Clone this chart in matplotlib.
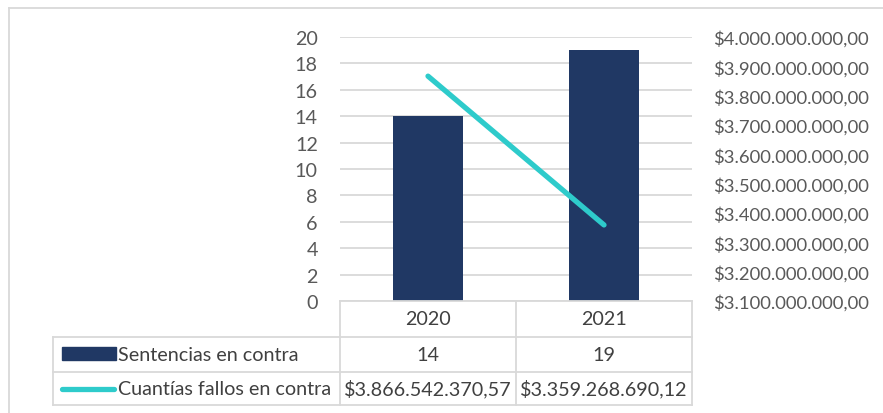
import matplotlib
matplotlib.use("Agg")
import matplotlib.pyplot as plt
from matplotlib.lines import Line2D
from matplotlib.patches import Rectangle
from matplotlib.ticker import FuncFormatter, MultipleLocator
import matplotlib.transforms as mtransforms

categories = ["2020", "2021"]
sentencias = [14, 19]
cuantias = [3866542370.57, 3359268690.12]
series_names = ["Sentencias en contra", "Cuantías fallos en contra"]

W, H = 883, 414
FONT = "Lato"
TXT = "#595959"
GRID = "#D9D9D9"
BAR = "#203864"
LINE = "#2ECBCB"
TBL_FS = 14.2

plt.rcParams["font.family"] = [FONT, "DejaVu Sans"]

fig = plt.figure(figsize=(W / 100, H / 100), dpi=100)

def fx(px):
    return px / W

def fy(py):
    return 1 - py / H

ax_left, ax_right, ax_top, ax_bottom = 340, 692, 38, 302
ax = fig.add_axes([fx(ax_left), fy(ax_bottom), fx(ax_right - ax_left), (ax_bottom - ax_top) / H])
x = list(range(len(categories)))
ax.bar(x, sentencias, width=0.4, color=BAR, zorder=2)
ax.set_xlim(-0.5, len(categories) - 0.5)
ax.set_ylim(0, 20)
ax.yaxis.set_major_locator(MultipleLocator(2))
ax.grid(axis="y", color=GRID, linewidth=1.3, zorder=0)
ax.set_axisbelow(True)
ax.set_xticks([])
ax.tick_params(axis="y", length=0, pad=16, labelsize=14.2, labelcolor=TXT)
for s in ["top", "left", "right"]:
    ax.spines[s].set_visible(False)
ax.spines["bottom"].set_color(GRID)
ax.spines["bottom"].set_linewidth(1.3)

ax2 = ax.twinx()
ax2.plot(x, cuantias, color=LINE, linewidth=3.8, solid_capstyle="round", zorder=3)
ax2.set_ylim(3.1e9, 4.0e9)
ax2.yaxis.set_major_locator(MultipleLocator(1e8))

def money(v, pos=None):
    s = f"{v:,.2f}"
    s = s.replace(",", "X").replace(".", ",").replace("X", ".")
    return "$" + s

ax2.yaxis.set_major_formatter(FuncFormatter(money))
ax2.tick_params(axis="y", length=0, pad=15, labelsize=13.3, labelcolor=TXT)
for s in ["top", "left", "right", "bottom"]:
    ax2.spines[s].set_visible(False)

# chart border
fig.add_artist(Line2D([fx(8.5), fx(W)], [fy(8.5), fy(8.5)], color=GRID, lw=1.3))
fig.add_artist(Line2D([fx(8.5), fx(8.5)], [fy(8.5), fy(H)], color=GRID, lw=1.3))

# data table
blend = mtransforms.blended_transform_factory(ax.transData, fig.transFigure)
rows_y = [302, 338, 373, 406]
tbl_left = 53
n = len(categories)
edges = [i - 0.5 for i in range(n + 1)]
for e in edges:
    fig.add_artist(Line2D([e, e], [fy(rows_y[0]), fy(rows_y[-1])], color=GRID, lw=1.3, transform=blend))
for ry in rows_y[1:]:
    fig.add_artist(Line2D([fx(tbl_left), fx(ax_right)], [fy(ry), fy(ry)], color=GRID, lw=1.3))
fig.add_artist(Line2D([fx(tbl_left), fx(tbl_left)], [fy(rows_y[1]), fy(rows_y[-1])], color=GRID, lw=1.3))

# header
for i, c in enumerate(categories):
    fig.text(i, fy((rows_y[0] + rows_y[1]) / 2), c, transform=blend, ha="center", va="center",
             fontsize=TBL_FS, color="#404040")
# row 1
y1 = fy((rows_y[1] + rows_y[2]) / 2)
fig.add_artist(Rectangle((fx(62), fy(361)), fx(116) - fx(62), (361 - 348) / H, color=BAR))
fig.text(fx(118), y1, series_names[0], ha="left", va="center", fontsize=TBL_FS, color="#404040")
for i, v in enumerate(sentencias):
    fig.text(i, y1, str(v), transform=blend, ha="center", va="center", fontsize=TBL_FS, color="#404040")
# row 2
y2 = fy((rows_y[2] + rows_y[3]) / 2)
fig.add_artist(Line2D([fx(62), fx(114)], [y2, y2], color=LINE, lw=3.8, solid_capstyle="round"))
fig.text(fx(118), y2, series_names[1], ha="left", va="center", fontsize=TBL_FS, color="#404040")
for i, v in enumerate(cuantias):
    fig.text(i, y2, money(v), transform=blend, ha="center", va="center", fontsize=TBL_FS, color="#404040")

fig.savefig("out.png", dpi=100)
